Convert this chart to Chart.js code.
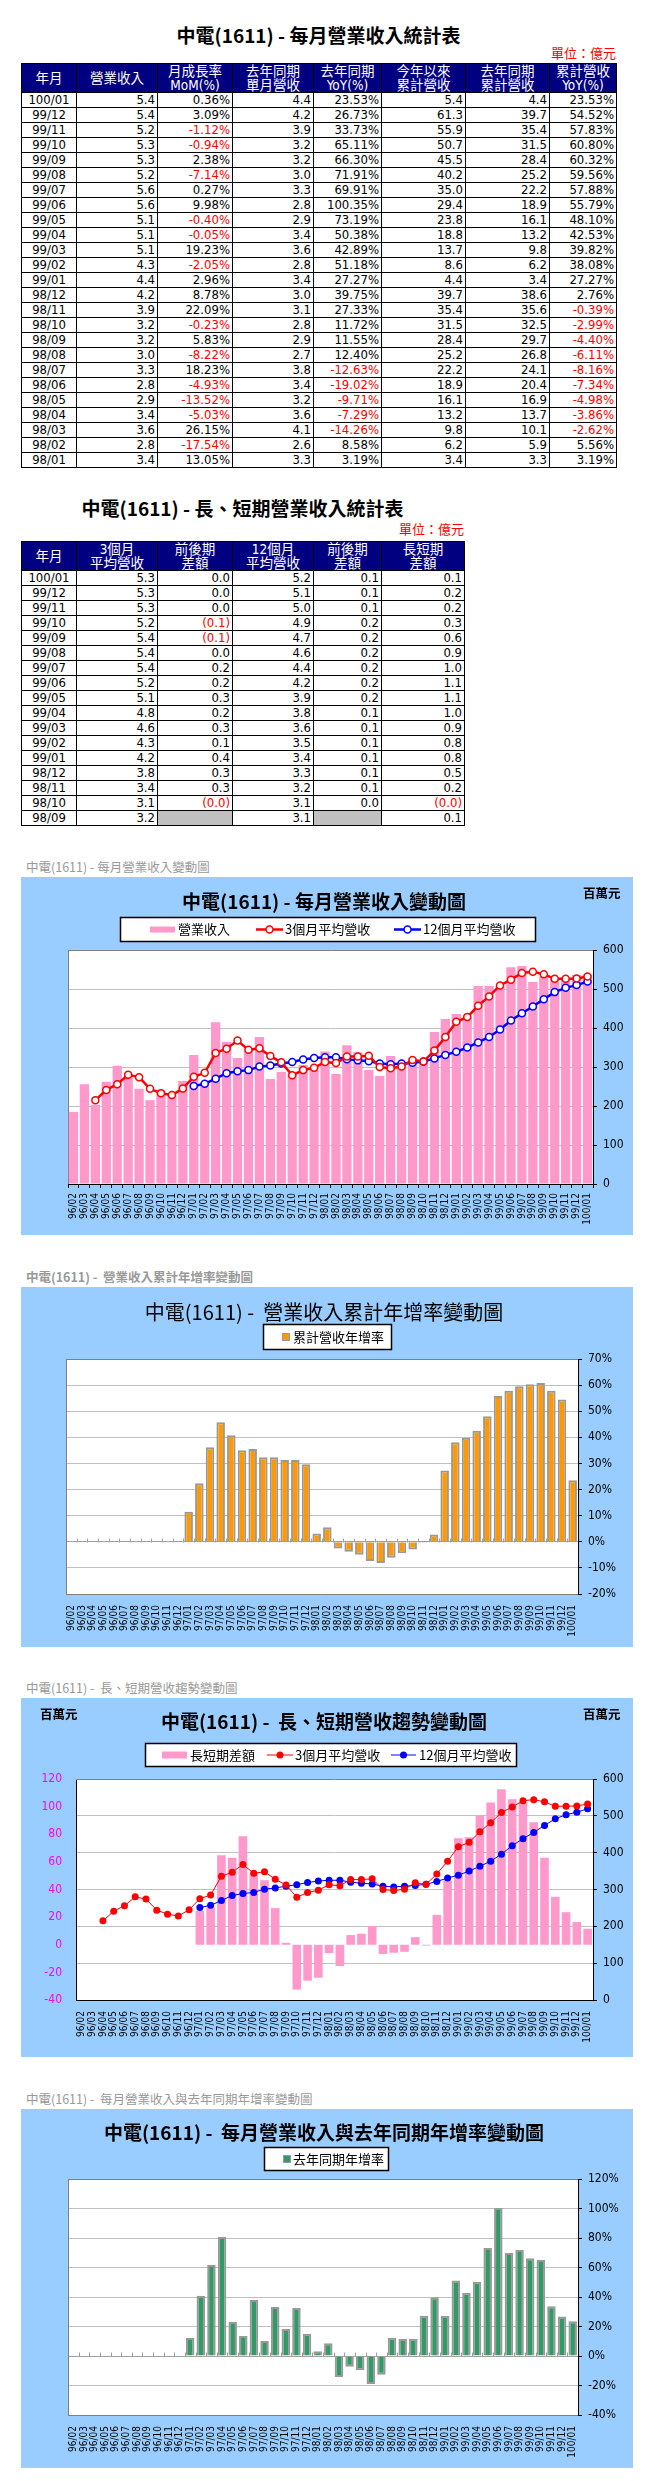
<!DOCTYPE html>
<html>
<head>
<meta charset="utf-8">
<script src="https://cdn.jsdelivr.net/npm/chart.js@4.4.0/dist/chart.umd.min.js"></script>
<style>
body{margin:0;background:#fff;width:655px;height:2481px;position:relative;overflow:hidden;font-family:"DejaVu Sans Condensed","DejaVu Sans","Noto Sans CJK TC",sans-serif;}
.title{position:absolute;font:bold 19px "Noto Sans CJK TC";line-height:24px;text-align:center;white-space:pre;}
.unit{position:absolute;color:#f00;font:13px "Noto Sans CJK TC";line-height:16px;text-align:right;}
table{position:absolute;border-collapse:collapse;table-layout:fixed;font-size:13px;}
td{border:1px solid #000;height:14px;padding:0 2px;line-height:14px;text-align:right;white-space:nowrap;overflow:hidden;}
td.m{text-align:center;}
td.neg{color:#f00;}
td.blank{background:#c0c0c0;}
th{border:1px solid #000;background:#000080;color:#fff;font-weight:normal;font-size:13.5px;line-height:14px;height:28px;padding:0;}
.sec{position:absolute;left:26px;color:#999;font:12.5px "Noto Sans CJK TC";white-space:pre;line-height:16px;}
.box{position:absolute;left:21px;width:612px;background:#99ccff;}
.box canvas{display:block;}
</style>
</head>
<body>

<div class="title" style="left:21px;width:595px;top:23px">中電(1611) - 每月營業收入統計表</div>
<div class="unit" style="left:500px;width:116px;top:45px">單位：億元</div>
<table id="t1" style="left:21px;top:63px;width:595px"></table>

<div class="title" style="left:21px;width:443px;top:496px">中電(1611) - 長、短期營業收入統計表</div>
<div class="unit" style="left:350px;width:114px;top:521px">單位：億元</div>
<table id="t2" style="left:21px;top:541px;width:443px"></table>

<div class="sec" style="top:859px">中電(1611) - 每月營業收入變動圖</div>
<div class="box" style="top:877px;height:358px"><canvas id="c1" width="612" height="358"></canvas></div>

<div class="sec" style="top:1269px;font-weight:bold">中電(1611) -  營業收入累計年增率變動圖</div>
<div class="box" style="top:1287px;height:360px"><canvas id="c2" width="612" height="360"></canvas></div>

<div class="sec" style="top:1680px">中電(1611) -  長、短期營收趨勢變動圖</div>
<div class="box" style="top:1698px;height:359px"><canvas id="c3" width="612" height="359"></canvas></div>

<div class="sec" style="top:2091px">中電(1611) -  每月營業收入與去年同期年增率變動圖</div>
<div class="box" style="top:2109px;height:359px"><canvas id="c4" width="612" height="359"></canvas></div>

<script>
// ---- table 1: 每月營業收入統計表 (億元) ----
const t1Months = ['100/01','99/12','99/11','99/10','99/09','99/08','99/07','99/06','99/05','99/04','99/03','99/02','99/01',
  '98/12','98/11','98/10','98/09','98/08','98/07','98/06','98/05','98/04','98/03','98/02','98/01'];
const t1Revenue = [5.4,5.4,5.2,5.3,5.3,5.2,5.6,5.6,5.1,5.1,5.1,4.3,4.4,4.2,3.9,3.2,3.2,3.0,3.3,2.8,2.9,3.4,3.6,2.8,3.4];
const t1Mom = [0.36,3.09,-1.12,-0.94,2.38,-7.14,0.27,9.98,-0.40,-0.05,19.23,-2.05,2.96,8.78,22.09,-0.23,5.83,-8.22,18.23,-4.93,-13.52,-5.03,26.15,-17.54,13.05];
const t1LastYear = [4.4,4.2,3.9,3.2,3.2,3.0,3.3,2.8,2.9,3.4,3.6,2.8,3.4,3.0,3.1,2.8,2.9,2.7,3.8,3.4,3.2,3.6,4.1,2.6,3.3];
const t1Yoy = [23.53,26.73,33.73,65.11,66.30,71.91,69.91,100.35,73.19,50.38,42.89,51.18,27.27,39.75,27.33,11.72,11.55,12.40,-12.63,-19.02,-9.71,-7.29,-14.26,8.58,3.19];
const t1Ytd = [5.4,61.3,55.9,50.7,45.5,40.2,35.0,29.4,23.8,18.8,13.7,8.6,4.4,39.7,35.4,31.5,28.4,25.2,22.2,18.9,16.1,13.2,9.8,6.2,3.4];
const t1LastYtd = [4.4,39.7,35.4,31.5,28.4,25.2,22.2,18.9,16.1,13.2,9.8,6.2,3.4,38.6,35.6,32.5,29.7,26.8,24.1,20.4,16.9,13.7,10.1,5.9,3.3];
const t1YtdYoy = [23.53,54.52,57.83,60.80,60.32,59.56,57.88,55.79,48.10,42.53,39.82,38.08,27.27,2.76,-0.39,-2.99,-4.40,-6.11,-8.16,-7.34,-4.98,-3.86,-2.62,5.56,3.19];

// ---- table 2: 長、短期營業收入統計表 (億元) ----
const t2Months = ['100/01','99/12','99/11','99/10','99/09','99/08','99/07','99/06','99/05','99/04','99/03','99/02','99/01','98/12','98/11','98/10','98/09'];
const t2Avg3 = [5.3,5.3,5.3,5.2,5.4,5.4,5.4,5.2,5.1,4.8,4.6,4.3,4.2,3.8,3.4,3.1,3.2];
const t2Diff3 = [0.0,0.0,0.0,-0.1,-0.1,0.0,0.2,0.2,0.3,0.2,0.3,0.1,0.4,0.3,0.3,-0,null];
const t2Avg12 = [5.2,5.1,5.0,4.9,4.7,4.6,4.4,4.2,3.9,3.8,3.6,3.5,3.4,3.3,3.2,3.1,3.1];
const t2Diff12 = [0.1,0.1,0.1,0.2,0.2,0.2,0.2,0.2,0.2,0.1,0.1,0.1,0.1,0.1,0.1,0.0,null];
const t2DiffLS = [0.1,0.2,0.2,0.3,0.6,0.9,1.0,1.1,1.1,1.0,0.9,0.8,0.8,0.5,0.2,-0,0.1];

// ---- charts: 96/02 .. 100/01 ----
const months = ['96/02','96/03','96/04','96/05','96/06','96/07','96/08','96/09','96/10','96/11','96/12',
  '97/01','97/02','97/03','97/04','97/05','97/06','97/07','97/08','97/09','97/10','97/11','97/12',
  '98/01','98/02','98/03','98/04','98/05','98/06','98/07','98/08','98/09','98/10','98/11','98/12',
  '99/01','99/02','99/03','99/04','99/05','99/06','99/07','99/08','99/09','99/10','99/11','99/12','100/01'];
// 百萬元
const revenue = [185,256,203,262,303,275,244,215,240,229,264,
  331,260,415,364,323,345,377,269,287,284,305,300,
  340,282,356,338,292,277,328,300,322,318,390,423,
  436,428,508,508,507,556,559,518,532,528,523,536,538];
const avg3 = [null,null,215,241,256,280,274,244,233,228,245,
  275,285,336,347,368,344,348,328,312,279,292,298,
  313,310,327,327,329,300,297,301,318,314,342,377,
  416,428,457,481,509,524,541,544,538,526,526,527,532];
const avg12 = [null,null,null,null,null,null,null,null,null,null,null,
  251,257,270,284,289,292,301,304,309,313,319,323,
  325,325,320,317,315,309,307,309,311,314,322,331,
  339,350,363,377,396,419,438,455,474,492,503,510,519];
const diffLS = [null,null,null,null,null,null,null,null,null,null,null,
  24.6,27,64.8,62.9,78.6,51.6,46.7,26.5,1.4,-32.5,-26.0,-23.9,
  -6,-15.4,7.0,8.0,13.5,-6.7,-5.8,-5.1,5.5,-0.6,21.7,46.5,
  77.1,77.8,93.3,103,112.5,105.3,103,88.7,62.9,34.7,23.6,16.4,11.6];
// %
const ytdYoy = [null,null,null,null,null,null,null,null,null,null,null,
  11.5,22.4,36.2,45.8,40.8,35.1,35.5,32.4,32.4,31.3,31.3,29.7,
  3.19,5.56,-2.62,-3.86,-4.98,-7.34,-8.16,-6.11,-4.40,-2.99,-0.39,2.76,
  27.27,38.08,39.82,42.53,48.10,55.79,57.88,59.56,60.32,60.80,57.83,54.52,23.53];
const monthYoy = [null,null,null,null,null,null,null,null,null,null,null,
  12.2,40.9,61.7,80.7,23.1,13.6,38.0,10.2,33.2,18.3,32.5,15.1,
  3.19,8.58,-14.26,-7.29,-9.71,-19.02,-12.63,12.40,11.55,11.72,27.33,39.75,
  27.27,51.18,42.89,50.38,73.19,100.35,69.91,71.91,66.30,65.11,33.73,26.73,23.53];

// ---------- tables ----------
function isNeg(v) { return v < 0 || Object.is(v, -0); }

function buildT1() {
  const widths = [55,81,75,81,68,84,84,67];
  const heads = ['年月','營業收入','月成長率<br>MoM(%)','去年同期<br>單月營收','去年同期<br>YoY(%)','今年以來<br>累計營收','去年同期<br>累計營收','累計營收<br>YoY(%)'];
  let h = '<colgroup>' + widths.map(w => '<col style="width:' + w + 'px">').join('') + '</colgroup>';
  h += '<tr>' + heads.map(x => '<th>' + x + '</th>').join('') + '</tr>';
  const pct = v => '<td' + (isNeg(v) ? ' class="neg"' : '') + '>' + v.toFixed(2) + '%</td>';
  const num = v => '<td>' + v.toFixed(1) + '</td>';
  t1Months.forEach((m, i) => {
    h += '<tr><td class="m">' + m + '</td>' + num(t1Revenue[i]) + pct(t1Mom[i]) + num(t1LastYear[i]) +
      pct(t1Yoy[i]) + num(t1Ytd[i]) + num(t1LastYtd[i]) + pct(t1YtdYoy[i]) + '</tr>';
  });
  document.getElementById('t1').innerHTML = h;
}

function buildT2() {
  const widths = [55,81,75,81,68,83];
  const heads = ['年月','3個月<br>平均營收','前後期<br>差額','12個月<br>平均營收','前後期<br>差額','長短期<br>差額'];
  let h = '<colgroup>' + widths.map(w => '<col style="width:' + w + 'px">').join('') + '</colgroup>';
  h += '<tr>' + heads.map(x => '<th>' + x + '</th>').join('') + '</tr>';
  const num = v => '<td>' + v.toFixed(1) + '</td>';
  const diff = v => {
    if (v === null) return '<td class="blank"></td>';
    if (isNeg(v)) return '<td class="neg">(' + Math.abs(v).toFixed(1) + ')</td>';
    return '<td>' + v.toFixed(1) + '</td>';
  };
  t2Months.forEach((m, i) => {
    h += '<tr><td class="m">' + m + '</td>' + num(t2Avg3[i]) + diff(t2Diff3[i]) + num(t2Avg12[i]) +
      diff(t2Diff12[i]) + diff(t2DiffLS[i]) + '</tr>';
  });
  document.getElementById('t2').innerHTML = h;
}
buildT1();
buildT2();

// ---------- charts ----------
const GRID = '#c0c0c0';
const CJK = '"Noto Sans CJK TC", sans-serif';
const NUM = '"DejaVu Sans Condensed", "DejaVu Sans", sans-serif';

// title, boxed legend, unit labels and the grey plot frame
const framePlugin = {
  id: 'frame',
  beforeDraw(chart) {
    const a = chart.chartArea, ctx = chart.ctx;
    ctx.save();
    ctx.fillStyle = '#99ccff';
    ctx.fillRect(0, 0, chart.width, chart.height);
    ctx.fillStyle = '#fff';
    ctx.fillRect(a.left, a.top, a.right - a.left, a.bottom - a.top);
    ctx.restore();
  },
  beforeDatasetsDraw(chart, args, o) {
    const a = chart.chartArea, ctx = chart.ctx;
    ctx.save();
    ctx.strokeStyle = '#808080';
    ctx.lineWidth = 1;
    ctx.beginPath();
    ctx.moveTo(a.left, a.top + 0.5); ctx.lineTo(a.right, a.top + 0.5);
    if (o.leftGray) { ctx.moveTo(a.left + 0.5, a.top); ctx.lineTo(a.left + 0.5, a.bottom); }
    ctx.stroke();
    if (o.zeroTicks) {
      const y0 = Math.round(chart.scales.y.getPixelForValue(0)) + 0.5;
      const step = (a.right - a.left) / chart.data.labels.length;
      ctx.strokeStyle = '#a0a0a0';
      ctx.beginPath();
      for (let i = 1; i < chart.data.labels.length; i++) {
        const x = Math.round(a.left + i * step) + 0.5;
        ctx.moveTo(x, y0); ctx.lineTo(x, y0 - 4);
      }
      ctx.stroke();
    }
    ctx.restore();
  },
  afterDraw(chart, args, o) {
    const ctx = chart.ctx;
    ctx.save();
    ctx.textBaseline = 'middle';
    ctx.fillStyle = '#000';
    ctx.font = o.titleFont;
    ctx.textAlign = 'center';
    ctx.fillText(o.title, chart.width / 2 - 3, o.titleY);

    const b = o.legendBox;
    ctx.fillStyle = '#fff';
    ctx.fillRect(b[0], b[1], b[2], b[3]);
    ctx.strokeStyle = '#000';
    ctx.lineWidth = 1.5;
    ctx.strokeRect(b[0] + 0.5, b[1] + 0.5, b[2], b[3]);
    const cy = b[1] + b[3] / 2 + 0.5;
    ctx.textAlign = 'left';
    ctx.font = '13px ' + CJK;
    o.items.forEach(it => {
      const ds = chart.data.datasets[it.ds];
      if (it.kind === 'rect') {
        ctx.fillStyle = ds.backgroundColor;
        ctx.fillRect(it.x, cy - it.h / 2, it.w, it.h);
      } else if (it.kind === 'square') {
        ctx.fillStyle = ds.backgroundColor;
        ctx.fillRect(it.x, cy - 4, 8, 8);
        ctx.strokeStyle = '#999';
        ctx.lineWidth = 1;
        ctx.strokeRect(it.x + 0.5, cy - 3.5, 7, 7);
      } else {
        ctx.strokeStyle = ds.borderColor;
        ctx.lineWidth = ds.borderWidth;
        ctx.beginPath();
        ctx.moveTo(it.x, cy); ctx.lineTo(it.x + it.w, cy);
        ctx.stroke();
        ctx.beginPath();
        ctx.arc(it.x + it.w / 2, cy, ds.pointRadius, 0, Math.PI * 2);
        ctx.fillStyle = ds.pointBackgroundColor;
        ctx.fill();
        if (ds.pointBorderWidth) {
          ctx.lineWidth = ds.pointBorderWidth;
          ctx.strokeStyle = ds.pointBorderColor;
          ctx.stroke();
        }
      }
      ctx.fillStyle = '#000';
      ctx.fillText(ds.label, it.tx, cy);
    });

    ctx.font = 'bold 12.5px ' + CJK;
    (o.units || []).forEach(u => ctx.fillText('百萬元', u[0], u[1]));
    ctx.restore();
  }
};

function xAxis(height, opts) {
  return Object.assign({
    offset: true,
    grid: { display: false, drawTicks: false },
    border: { color: '#000' },
    ticks: { autoSkip: false, minRotation: 90, maxRotation: 90, padding: 11, color: '#000',
      font: { family: NUM, size: 10 } },
    afterFit: s => { s.height = height; }
  }, opts || {});
}

function rightAxis(min, max, step, width, fmt, zeroColor) {
  return {
    position: 'right', min: min, max: max,
    grid: {
      color: c => c.tick.value === max ? 'rgba(0,0,0,0)' : (c.tick.value === 0 && zeroColor ? zeroColor : GRID),
      tickColor: '#000', tickLength: 4
    },
    border: { color: '#000' },
    ticks: { stepSize: step, padding: 6, color: '#000', font: { family: NUM, size: 12 },
      callback: v => v + fmt },
    afterFit: s => { s.width = width; }
  };
}

const baseOpts = {
  responsive: false, animation: false, devicePixelRatio: 1, events: [],
};

// chart 1: 每月營業收入變動圖
new Chart(document.getElementById('c1'), {
  type: 'bar',
  data: {
    labels: months,
    datasets: [
      { type: 'line', label: '3個月平均營收', data: avg3, borderColor: '#ff0000', borderWidth: 2.5,
        pointRadius: 3.5, pointBackgroundColor: '#fff', pointBorderColor: '#ff0000', pointBorderWidth: 1.5, order: 1 },
      { type: 'line', label: '12個月平均營收', data: avg12, borderColor: '#0000ff', borderWidth: 2.5,
        pointRadius: 3.5, pointBackgroundColor: '#fff', pointBorderColor: '#0000ff', pointBorderWidth: 1.5, order: 2 },
      { label: '營業收入', data: revenue, backgroundColor: '#ff99cc', barPercentage: 0.85, categoryPercentage: 1, order: 3 }
    ]
  },
  options: Object.assign({}, baseOpts, {
    layout: { padding: { left: 47, top: 73, right: 0, bottom: 0 } },
    scales: {
      x: xAxis(51, { z: 1, grid: { display: true, drawOnChartArea: false, drawTicks: true, tickLength: 4, color: '#000' },
        ticks: { autoSkip: false, minRotation: 90, maxRotation: 90, padding: 5, color: '#000', font: { family: NUM, size: 10 } } }),
      y: rightAxis(0, 600, 100, 40, '')
    },
    plugins: {
      legend: { display: false }, tooltip: { enabled: false },
      frame: {
        title: '中電(1611) - 每月營業收入變動圖', titleFont: 'bold 19px ' + CJK, titleY: 25,
        legendBox: [99, 40, 415, 24], leftGray: true,
        items: [
          { ds: 2, kind: 'rect', x: 129, w: 25, h: 6, tx: 157 },
          { ds: 0, kind: 'line', x: 235, w: 27, tx: 264 },
          { ds: 1, kind: 'line', x: 373, w: 27, tx: 402 }
        ],
        units: [[562, 16]]
      }
    }
  }),
  plugins: [framePlugin]
});

// chart 2: 營業收入累計年增率變動圖
new Chart(document.getElementById('c2'), {
  type: 'bar',
  data: {
    labels: months,
    datasets: [
      { label: '累計營收年增率', data: ytdYoy, backgroundColor: '#ff9900', borderColor: '#999999', borderWidth: 2,
        barPercentage: 0.8, categoryPercentage: 1 }
    ]
  },
  options: Object.assign({}, baseOpts, {
    layout: { padding: { left: 45, top: 72, right: 0, bottom: 0 } },
    scales: {
      x: xAxis(53, { border: { color: '#808080' } }),
      y: rightAxis(-20, 70, 10, 55, '%', '#a0a0a0')
    },
    plugins: {
      legend: { display: false }, tooltip: { enabled: false },
      frame: {
        title: '中電(1611) -  營業收入累計年增率變動圖', titleFont: '20px ' + CJK, titleY: 25,
        legendBox: [242, 37, 128, 25], leftGray: true, zeroTicks: true,
        items: [ { ds: 0, kind: 'square', x: 261, tx: 272 } ]
      }
    }
  }),
  plugins: [framePlugin]
});

// chart 3: 長、短期營收趨勢變動圖
new Chart(document.getElementById('c3'), {
  type: 'bar',
  data: {
    labels: months,
    datasets: [
      { type: 'line', label: '3個月平均營收', data: avg3, yAxisID: 'y', borderColor: '#ff0000', borderWidth: 1,
        pointRadius: 3.5, pointBackgroundColor: '#ff0000', pointBorderColor: '#ff0000', pointBorderWidth: 0, order: 1 },
      { type: 'line', label: '12個月平均營收', data: avg12, yAxisID: 'y', borderColor: '#0000ff', borderWidth: 1,
        pointRadius: 3.5, pointBackgroundColor: '#0000ff', pointBorderColor: '#0000ff', pointBorderWidth: 0, order: 2 },
      { label: '長短期差額', data: diffLS, yAxisID: 'yL', backgroundColor: '#ff99cc', barPercentage: 0.8,
        categoryPercentage: 1, order: 3 }
    ]
  },
  options: Object.assign({}, baseOpts, {
    layout: { padding: { left: 0, top: 81, right: 0, bottom: 0 } },
    scales: {
      x: xAxis(57, { z: 1 }),
      yL: {
        position: 'left', min: -40, max: 120,
        grid: { display: false, drawTicks: false },
        border: { color: '#000' },
        ticks: { stepSize: 20, padding: 14, color: '#ff00ff', font: { family: NUM, size: 12 } },
        afterFit: s => { s.width = 55; }
      },
      y: rightAxis(0, 600, 100, 40, '')
    },
    plugins: {
      legend: { display: false }, tooltip: { enabled: false },
      frame: {
        title: '中電(1611) -  長、短期營收趨勢變動圖', titleFont: 'bold 19px ' + CJK, titleY: 24,
        legendBox: [124, 45, 371, 23],
        items: [
          { ds: 2, kind: 'rect', x: 141, w: 25, h: 7, tx: 169 },
          { ds: 0, kind: 'line', x: 246, w: 26, tx: 274 },
          { ds: 1, kind: 'line', x: 370, w: 25, tx: 398 }
        ],
        units: [[19, 16], [562, 16]]
      }
    }
  }),
  plugins: [framePlugin]
});

// chart 4: 每月營業收入與去年同期年增率變動圖
new Chart(document.getElementById('c4'), {
  type: 'bar',
  data: {
    labels: months,
    datasets: [
      { label: '去年同期年增率', data: monthYoy, backgroundColor: '#339966', borderColor: '#999999', borderWidth: 2,
        barPercentage: 0.8, categoryPercentage: 1 }
    ]
  },
  options: Object.assign({}, baseOpts, {
    layout: { padding: { left: 47, top: 70, right: 0, bottom: 0 } },
    scales: {
      x: xAxis(53, { border: { color: '#808080' } }),
      y: rightAxis(-40, 120, 20, 55, '%', '#a0a0a0')
    },
    plugins: {
      legend: { display: false }, tooltip: { enabled: false },
      frame: {
        title: '中電(1611) -  每月營業收入與去年同期年增率變動圖', titleFont: 'bold 19px ' + CJK, titleY: 24,
        legendBox: [243, 38, 124, 23], leftGray: true, zeroTicks: true,
        items: [ { ds: 0, kind: 'square', x: 262, tx: 272 } ]
      }
    }
  }),
  plugins: [framePlugin]
});
</script>
</body>
</html>
